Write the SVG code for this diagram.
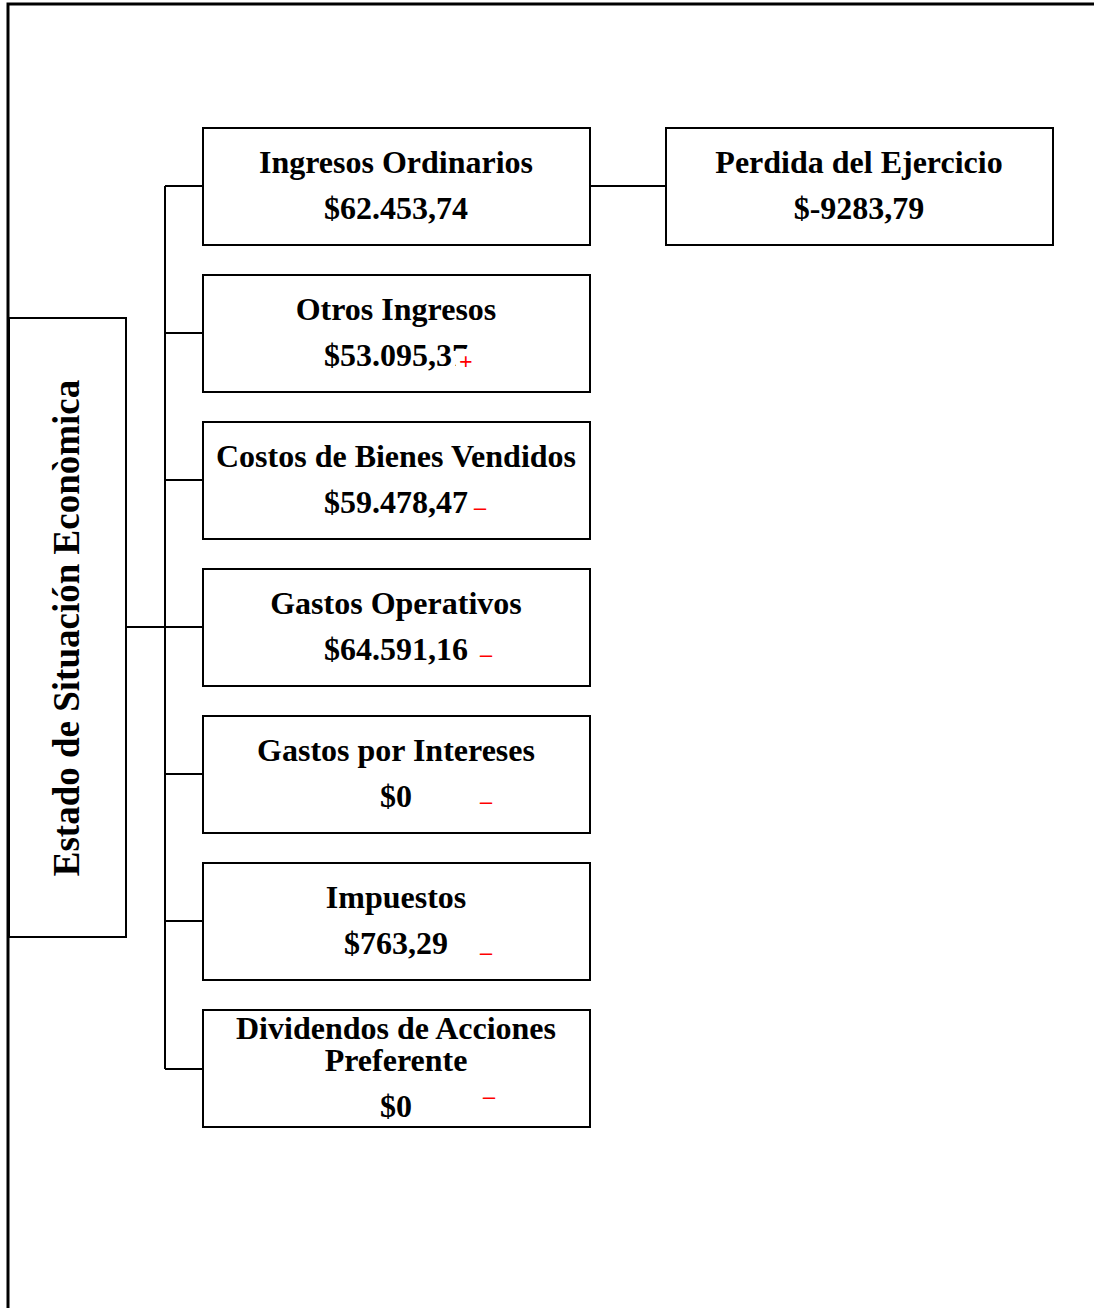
<svg xmlns="http://www.w3.org/2000/svg" width="1094" height="1308" viewBox="0 0 1094 1308">
<style>
.box{fill:#fff;stroke:#000;stroke-width:2}
.t{font-family:"Liberation Serif","Times New Roman",serif;font-weight:bold;font-size:32px;fill:#000;text-anchor:middle}
.r{font-family:"Liberation Serif","Times New Roman",serif;font-weight:bold;font-size:24px;fill:#f00}
.c{stroke:#000;stroke-width:2;fill:none}
</style>
<rect x="0" y="0" width="1094" height="1308" fill="#fff"/>
<path d="M8,1310 V4 H1096" stroke="#000" stroke-width="3" fill="none"/>
<g id="connectors">
<path class="c" d="M126,627 H165 M165,186 V1069 M165,186 H203 M165,333 H203 M165,480 H203 M165,627 H203 M165,774 H203 M165,921 H203 M165,1069 H203 M590,186 H666"/>
</g>
<g id="root"><rect class="box" x="9" y="318" width="117" height="619"/>
<text class="t" transform="translate(79,628) rotate(-90)" style="font-size:37px">Estado de Situación Econòmica</text></g>
<g id="n1"><rect class="box" x="203" y="128" width="387" height="117"/>
<text class="t" x="396" y="173">Ingresos Ordinarios</text><text class="t" x="396" y="219">$62.453,74</text></g>
<g id="n2"><rect class="box" x="203" y="275" width="387" height="117"/>
<text class="t" x="396" y="320">Otros Ingresos</text><text class="t" x="396" y="366">$53.095,37</text>
<rect x="456" y="349" width="22" height="24" fill="#fff"/><text class="r" x="459" y="369">+</text></g>
<g id="n3"><rect class="box" x="203" y="422" width="387" height="117"/>
<text class="t" x="396" y="467">Costos de Bienes Vendidos</text><text class="t" x="396" y="513">$59.478,47</text><text class="r" x="474" y="515">–</text></g>
<g id="n4"><rect class="box" x="203" y="569" width="387" height="117"/>
<text class="t" x="396" y="614">Gastos Operativos</text><text class="t" x="396" y="660">$64.591,16</text><text class="r" x="480" y="662">–</text></g>
<g id="n5"><rect class="box" x="203" y="716" width="387" height="117"/>
<text class="t" x="396" y="761">Gastos por Intereses</text><text class="t" x="396" y="807">$0</text><text class="r" x="480" y="809">–</text></g>
<g id="n6"><rect class="box" x="203" y="863" width="387" height="117"/>
<text class="t" x="396" y="908">Impuestos</text><text class="t" x="396" y="954">$763,29</text><text class="r" x="480" y="960">–</text></g>
<g id="n7"><rect class="box" x="203" y="1010" width="387" height="117"/>
<text class="t" x="396" y="1039">Dividendos de Acciones</text><text class="t" x="396" y="1071">Preferente</text><text class="t" x="396" y="1117">$0</text><text class="r" x="483" y="1104">–</text></g>
<g id="n8"><rect class="box" x="666" y="128" width="387" height="117"/>
<text class="t" x="859" y="173">Perdida del Ejercicio</text><text class="t" x="859" y="219">$-9283,79</text></g>
</svg>
